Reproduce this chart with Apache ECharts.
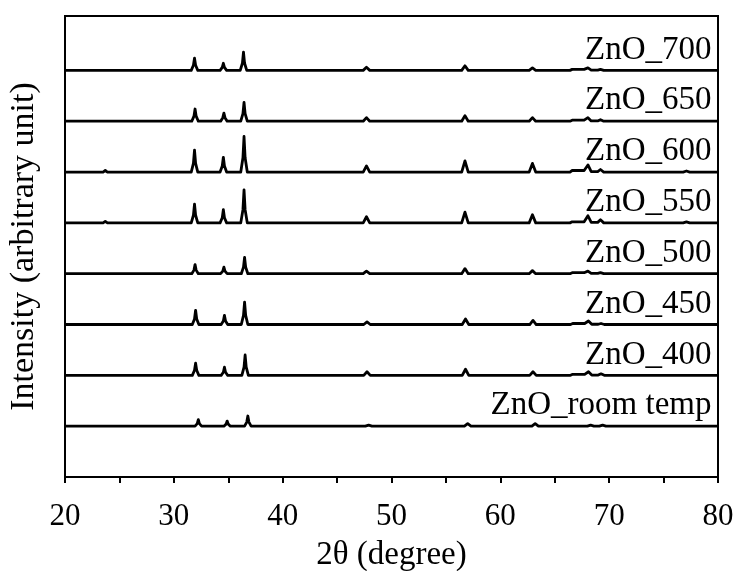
<!DOCTYPE html>
<html>
<head>
<meta charset="utf-8">
<script src="https://cdn.jsdelivr.net/npm/echarts@6/dist/echarts.min.js"></script>
<style>
  html, body { margin: 0; padding: 0; background: #fff; }
  #chart { width: 736px; height: 571px; }
</style>
</head>
<body>
<div id="chart"></div>
<script>
// sample names, top to bottom
const names = ['ZnO_700', 'ZnO_650', 'ZnO_600', 'ZnO_550', 'ZnO_500', 'ZnO_450', 'ZnO_400', 'ZnO_room temp']
// vertical stacking offset of each pattern (arbitrary unit)
const offsets = [800, 700, 600, 500, 400, 300, 200, 100]

// [2θ, intensity above own baseline]
const zno700 = [[20,0],
  [31.6,0],[31.8,10],[31.9,24],[32.0,10],[32.2,0],
  [34.25,0],[34.45,6],[34.55,14],[34.65,6],[34.85,0],
  [36.1,0],[36.3,14],[36.4,36],[36.5,14],[36.7,0],
  [47.4,0],[47.7,6],[48.0,0],
  [56.45,0],[56.75,9],[57.05,0],
  [62.65,0],[62.95,5],[63.25,0],
  [66.4,0],[66.6,2],[67.7,2],[68.05,5],[68.35,0.5],[68.95,0.5],[69.2,2],[69.5,0],
  [80,0]]
const zno650 = [[20,0],
  [31.65,0],[31.85,10],[31.95,24],[32.05,10],[32.25,0],
  [34.3,0],[34.5,7],[34.6,16],[34.7,7],[34.9,0],
  [36.15,0],[36.35,15],[36.45,37],[36.55,15],[36.75,0],
  [47.4,0],[47.7,7],[48.0,0],
  [56.45,0],[56.75,11],[57.05,0],
  [62.65,0],[62.95,7],[63.25,0],
  [66.4,0],[66.6,2],[67.7,2],[68.05,7],[68.35,0.5],[68.95,0.5],[69.2,3],[69.5,0],
  [80,0]]
const zno600 = [[20,0],
  [23.5,0],[23.7,3],[23.9,0],
  [31.6,0],[31.8,17],[31.9,43],[32.0,17],[32.2,0],
  [34.25,0],[34.45,12],[34.55,29],[34.65,12],[34.85,0],
  [36.15,0],[36.35,28],[36.45,70],[36.55,28],[36.75,0],
  [47.4,0],[47.7,12],[48.0,0],
  [56.45,0],[56.75,22],[57.05,0],
  [62.65,0],[62.95,17],[63.25,0],
  [66.4,0],[66.6,3],[67.7,3],[68.05,14],[68.35,1],[68.95,1],[69.2,5],[69.5,0],
  [76.8,0],[77.1,2],[77.4,0],
  [80,0]]
const zno550 = [[20,0],
  [23.5,0],[23.7,3],[23.9,0],
  [31.6,0],[31.8,15],[31.9,37],[32.0,15],[32.2,0],
  [34.25,0],[34.45,10],[34.55,26],[34.65,10],[34.85,0],
  [36.15,0],[36.35,26],[36.45,65],[36.55,26],[36.75,0],
  [47.4,0],[47.7,12],[48.0,0],
  [56.45,0],[56.75,21],[57.05,0],
  [62.65,0],[62.95,16],[63.25,0],
  [66.4,0],[66.6,2],[67.7,2],[68.05,14],[68.35,1],[68.95,1],[69.2,6],[69.5,0],
  [76.8,0],[77.1,2],[77.4,0],
  [80,0]]
const zno500 = [[20,0],
  [31.65,0],[31.85,7],[31.95,18],[32.05,7],[32.25,0],
  [34.3,0],[34.5,5],[34.6,13],[34.7,5],[34.9,0],
  [36.2,0],[36.4,13],[36.5,32],[36.6,13],[36.8,0],
  [47.4,0],[47.7,5],[48.0,0],
  [56.45,0],[56.75,10],[57.05,0],
  [62.65,0],[62.95,6],[63.25,0],
  [66.4,0],[66.6,2],[67.7,2],[68.05,5],[68.35,0.5],[68.95,0.5],[69.2,2],[69.5,0],
  [80,0]]
const zno450 = [[20,0],
  [31.7,0],[31.9,11],[32.0,28],[32.1,11],[32.3,0],
  [34.35,0],[34.55,7],[34.65,18],[34.75,7],[34.95,0],
  [36.2,0],[36.4,18],[36.5,44],[36.6,18],[36.8,0],
  [47.45,0],[47.75,5],[48.05,0],
  [56.5,0],[56.8,11],[57.1,0],
  [62.7,0],[63.0,8],[63.3,0],
  [66.45,0],[66.65,2],[67.75,2],[68.1,7],[68.4,0.5],[69.0,0.5],[69.25,2],[69.55,0],
  [80,0]]
const zno400 = [[20,0],
  [31.7,0],[31.9,10],[32.0,24],[32.1,10],[32.3,0],
  [34.35,0],[34.55,6],[34.65,16],[34.75,6],[34.95,0],
  [36.25,0],[36.45,16],[36.55,40],[36.65,16],[36.85,0],
  [47.45,0],[47.75,7],[48.05,0],
  [56.5,0],[56.8,12],[57.1,0],
  [62.7,0],[63.0,7],[63.3,0],
  [66.45,0],[66.65,2],[67.75,2],[68.1,7],[68.4,0.5],[69.0,0.5],[69.25,3],[69.55,0],
  [80,0]]
const znoRoom = [[20,0],
  [31.95,0],[32.15,5],[32.25,13],[32.35,5],[32.55,0],
  [34.6,0],[34.8,4],[34.9,10],[35.0,4],[35.2,0],
  [36.5,0],[36.7,8],[36.8,20],[36.9,8],[37.1,0],
  [47.6,0],[47.9,2],[48.2,0],
  [56.7,0],[57.0,5],[57.3,0],
  [62.9,0],[63.2,5],[63.5,0],
  [68.0,0],[68.3,2],[68.6,0],[69.1,0],[69.4,2],[69.7,0],
  [80,0]]
const patterns = [zno700, zno650, zno600, zno550, zno500, zno450, zno400, znoRoom]

const xTicks = [20, 30, 40, 50, 60, 70, 80]

const font = "'Liberation Serif', 'Times New Roman', serif"

const chart = echarts.init(document.getElementById('chart'))

const series = patterns.map((pts, i) => ({
  name: names[i],
  type: 'line',
  showSymbol: false,
  symbol: 'none',
  animation: false,
  lineStyle: { color: '#000', width: 2.8, join: 'round' },
  data: pts.map(p => [p[0], p[1] + offsets[i]]),
  markPoint: {
    symbol: 'circle',
    symbolSize: 0,
    animation: false,
    label: {
      show: true,
      position: [0, 0],
      align: 'right',
      verticalAlign: 'bottom',
      offset: [0, -4],
      color: '#000',
      fontFamily: font,
      fontSize: 33,
      formatter: names[i]
    },
    data: [{ coord: [79.4, offsets[i]] }]
  }
}))

const option = {
  animation: false,
  grid: {
    left: 65,
    right: 18,
    top: 16,
    bottom: 94,
    outerBoundsMode: 'none',
    containLabel: false,
    show: true,
    borderColor: '#000',
    borderWidth: 2
  },
  xAxis: {
    type: 'value',
    min: xTicks[0],
    max: xTicks[xTicks.length - 1],
    interval: 10,
    name: '2θ (degree)',
    nameLocation: 'middle',
    nameGap: 62,
    nameTextStyle: { color: '#000', fontFamily: font, fontSize: 33 },
    axisLine: { lineStyle: { color: '#000', width: 2 } },
    axisTick: { show: true, length: 6, lineStyle: { color: '#000', width: 2 } },
    minorTick: { show: true, splitNumber: 2, length: 6, lineStyle: { color: '#000', width: 2 } },
    axisLabel: { color: '#000', fontFamily: font, fontSize: 31, margin: 24 },
    splitLine: { show: false }
  },
  yAxis: {
    type: 'value',
    min: 0,
    max: 907,
    name: 'Intensity (arbitrary unit)',
    nameLocation: 'middle',
    nameRotate: 90,
    nameGap: 24,
    nameTextStyle: { color: '#000', fontFamily: font, fontSize: 34 },
    axisLine: { show: true, lineStyle: { color: '#000', width: 2 } },
    axisTick: { show: false },
    axisLabel: { show: false },
    splitLine: { show: false }
  },
  series: series
}

chart.setOption(option)
</script>
</body>
</html>
